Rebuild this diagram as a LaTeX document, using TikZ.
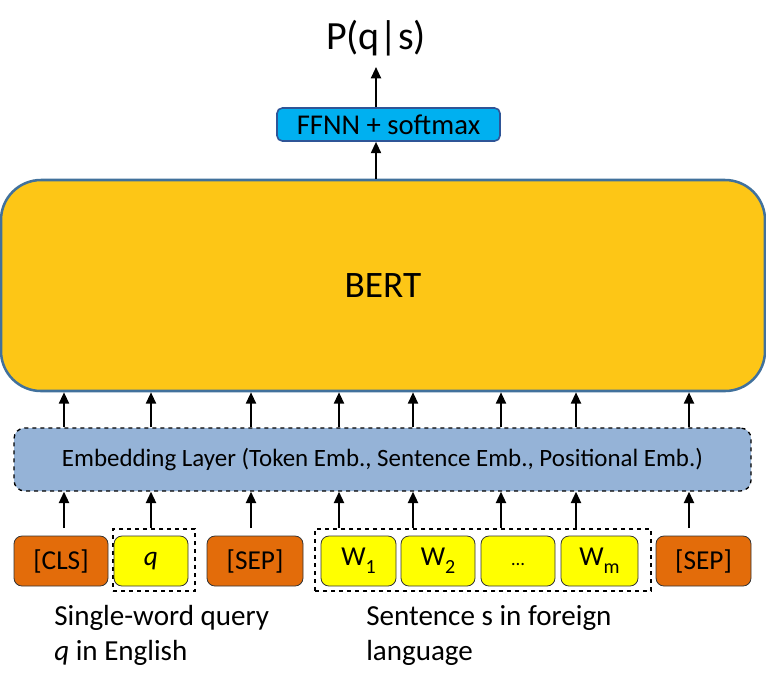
\documentclass[tikz,border=0pt]{standalone}
\usepackage{fontspec}
\setmainfont{Carlito}
\usetikzlibrary{arrows.meta}
\definecolor{bertfill}{RGB}{253,198,22}
\definecolor{bertline}{RGB}{65,113,156}
\definecolor{embfill}{RGB}{149,179,215}
\definecolor{orangetok}{RGB}{227,108,10}
\definecolor{yellowtok}{RGB}{255,255,0}
\definecolor{ffnnfill}{RGB}{0,176,240}
\definecolor{ffnnline}{RGB}{47,85,151}
\newcommand{\subx}[1]{\raisebox{-0.3em}{\fontsize{15}{15}\selectfont #1}}
\begin{document}
\begin{tikzpicture}[x=0.75pt,y=-0.75pt,
  arr/.style={draw=black,line width=1.5pt,-{Triangle[length=8.5pt,width=7.5pt]}},
  tok/.style={draw=black!80,line width=0.6pt,rounded corners=6pt,minimum height=37.5pt,inner sep=0pt,font=\fontsize{20.5}{24}\selectfont},
  orangebox/.style={tok,fill=orangetok},
  yellowbox/.style={tok,fill=yellowtok},
  dashbox/.style={draw=black,dashed,line width=1pt,minimum height=46.5pt,inner sep=0pt},
  bertbox/.style={draw=bertline,fill=bertfill,line width=1.9pt,rounded corners=30pt,inner sep=0pt,font=\fontsize{28}{32}\selectfont},
  embbox/.style={draw=black,fill=embfill,dashed,line width=1pt,rounded corners=8pt,inner sep=0pt,font=\fontsize{18.7}{22}\selectfont},
  ffnnbox/.style={draw=ffnnline,fill=ffnnfill,line width=1.2pt,rounded corners=4pt,inner sep=0pt,font=\fontsize{21.5}{24}\selectfont},
  caption/.style={anchor=base west,inner sep=0pt,font=\fontsize{21.8}{24}\selectfont}
]
\useasboundingbox (0,0) rectangle (766,687);

% top
\node[inner sep=0pt,font=\fontsize{30}{34}\selectfont] (p) at (376,38) {P(q|s)};
\node[ffnnbox,minimum width=223*0.75pt,minimum height=33*0.75pt] (ffnn) at (388.5,124.5) {FFNN + softmax};
\node[bertbox,minimum width=764*0.75pt,minimum height=211*0.75pt] (bert) at (383,285.5) {BERT};
\node[embbox,minimum width=737*0.75pt,minimum height=63*0.75pt] (emb) at (382.5,459.5) {Embedding Layer (Token Emb., Sentence Emb., Positional Emb.)};

% dashed groups
\node[dashbox,minimum width=82*0.75pt] (qd) at (154,560) {};
\node[dashbox,minimum width=336*0.75pt] (wd) at (483,560) {};

% tokens
\node[orangebox,minimum width=94*0.75pt] (cls) at (61,561) {[CLS]};
\node[yellowbox,minimum width=74*0.75pt] (q) at (151,561) {\itshape q};
\node[orangebox,minimum width=96*0.75pt] (sep1) at (255,561) {[SEP]};
\node[yellowbox,minimum width=75*0.75pt] (w1) at (358.5,561) {W\subx{1}};
\node[yellowbox,minimum width=74*0.75pt] (w2) at (438,561) {W\subx{2}};
\node[yellowbox,minimum width=74*0.75pt] (wd3) at (518,561) {\vphantom{W\subx{1}}{\fontsize{14}{14}\selectfont …}};
\node[yellowbox,minimum width=77*0.75pt] (wm) at (599.5,561) {W\subx{m}};
\node[orangebox,minimum width=95*0.75pt] (sep2) at (703.5,561) {[SEP]};

% arrows
\draw[arr] (ffnn.north -| p) -- (p.south |- 0,67);
\draw[arr] (bert.north -| p) -- (ffnn.south -| p);
\foreach \i/\xx in {1/64,2/151,3/251,4/339,5/413,6/501,7/576,8/689}{
  \coordinate (a\i) at (\xx,528);
  \draw[arr] (a\i) -- (a\i |- emb.south);
  \draw[arr] (a\i |- emb.north) -- (a\i |- bert.south);
}

% captions
\node[caption] (c1) at (54,625) {Single-word query};
\node[caption] (c2) at (54,660) {\textit{q} in English};
\node[caption] (c3) at (366,625) {Sentence s in foreign};
\node[caption] (c4) at (366,660) {language};
\end{tikzpicture}
\end{document}
